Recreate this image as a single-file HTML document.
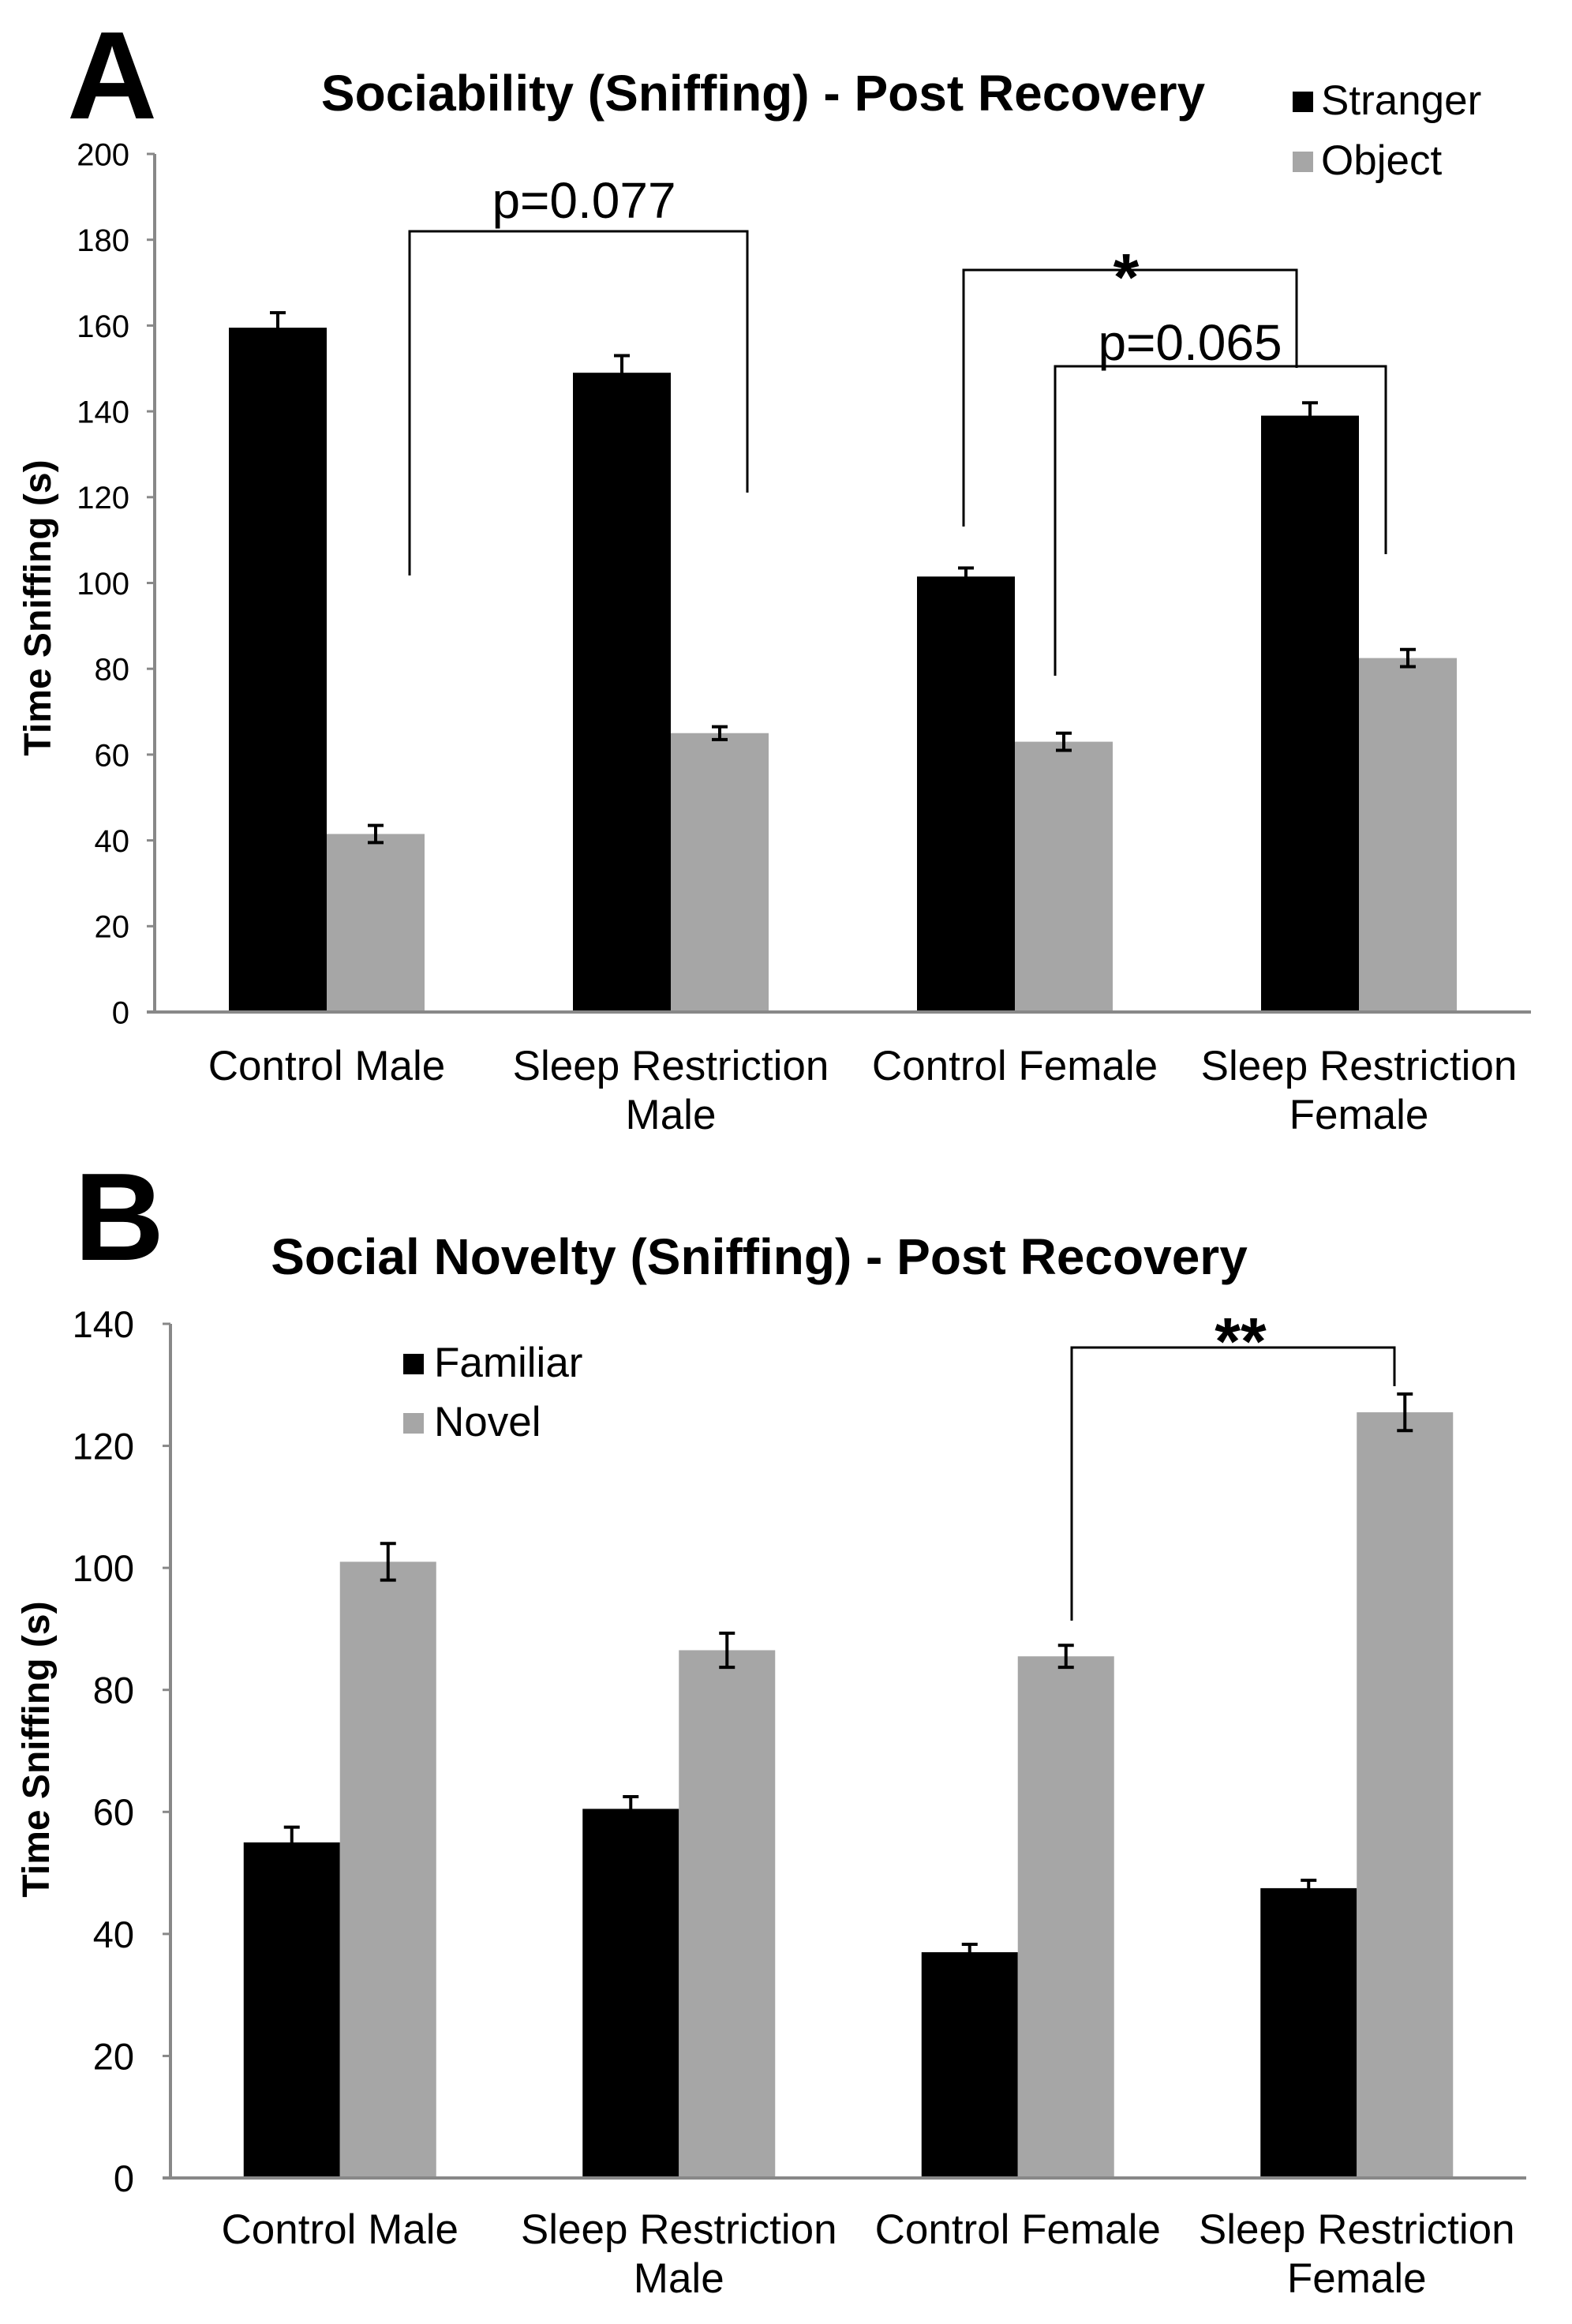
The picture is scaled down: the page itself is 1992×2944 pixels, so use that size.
<!DOCTYPE html>
<html><head><meta charset="utf-8"><style>
html,body{margin:0;padding:0;background:#fff;}
svg{display:block;font-family:"Liberation Sans",Arial,sans-serif;}
</style></head><body>
<svg id="fig" width="1992" height="2944" viewBox="0 0 1992 2944" xmlns="http://www.w3.org/2000/svg">
<rect width="1992" height="2944" fill="#fff"/>
<text x="85" y="150" font-size="158" font-weight="bold">A</text>
<text x="967" y="140" font-size="64" font-weight="bold" text-anchor="middle">Sociability (Sniffing) - Post Recovery</text>
<rect x="1638" y="116" width="26" height="26" fill="#000"/>
<text x="1674" y="145" font-size="53">Stranger</text>
<rect x="1638" y="192" width="26" height="26" fill="#a6a6a6"/>
<text x="1674" y="221" font-size="53">Object</text>
<text transform="translate(64,770) rotate(-90)" font-size="48" font-weight="bold" text-anchor="middle">Time Sniffing (s)</text>

<text x="94" y="1596" font-size="158" font-weight="bold">B</text>
<text x="962" y="1614" font-size="64" font-weight="bold" text-anchor="middle">Social Novelty (Sniffing) - Post Recovery</text>
<rect x="511" y="1715" width="26" height="26" fill="#000"/>
<text x="550" y="1744" font-size="53">Familiar</text>
<rect x="511" y="1790" width="26" height="26" fill="#a6a6a6"/>
<text x="550" y="1819" font-size="53">Novel</text>
<text transform="translate(62,2216) rotate(-90)" font-size="48" font-weight="bold" text-anchor="middle">Time Sniffing (s)</text>
<g id="ca"></g><g id="cb"></g>
</svg>
<script>
const categories = [["Control Male"],["Sleep Restriction","Male"],["Control Female"],["Sleep Restriction","Female"]];
const strangerValues = [159.5, 149, 101.5, 139];
const strangerErrors = [3.5, 4, 2, 3];
const objectValues = [41.5, 65, 63, 82.5];
const objectErrors = [2, 1.5, 2, 2];
const ticksA = [0,20,40,60,80,100,120,140,160,180,200];
const familiarValues = [55, 60.5, 37, 47.5];
const familiarErrors = [2.5, 2, 1.3, 1.3];
const novelValues = [101, 86.5, 85.5, 125.5];
const novelErrors = [3, 2.8, 1.8, 3];
const ticksB = [0,20,40,60,80,100,120,140];

const NS = "http://www.w3.org/2000/svg";
function mk(parent, tag, attrs){const e=document.createElementNS(NS,tag);for(const k in attrs)e.setAttribute(k,attrs[k]);parent.appendChild(e);return e;}

function drawChart(g, cfg){
  const yS = v => cfg.y0 - (v - 0) / cfg.max * (cfg.y0 - cfg.yTop);
  const band = (cfg.x1 - cfg.x0) / categories.length;
  const xC = i => cfg.x0 + band * (i + 0.5);
  const ya = mk(g,'line',{x1:cfg.x0,y1:cfg.yTop,x2:cfg.x0,y2:cfg.y0,stroke:'#888','stroke-width':4});
  
  
  cfg.ticks.forEach(t=>{
    const y = yS(t);
    const tl = mk(g,'line',{x1:cfg.x0-10,y1:y,x2:cfg.x0,y2:y,stroke:'#888','stroke-width':3});
    
    
    const tx = mk(g,'text',{x:cfg.x0-cfg.tg,y:y+cfg.tf*0.36,'font-size':cfg.tf,'text-anchor':'end'});
    tx.textContent = t;
    
    
  });
  const bw = cfg.bw;
  const series = [[cfg.s1,cfg.e1,'#000',-1,cfg.n1],[cfg.s2,cfg.e2,'#a6a6a6',0,cfg.n2]];
  series.forEach(([vals,errs,col,off,nm])=>{
    vals.forEach((v,i)=>{
      const x = xC(i) + off*bw;
      const r = mk(g,'rect',{x:x,y:yS(v),width:bw,height:cfg.y0-yS(v),fill:col});
      
      
      const cx = x + bw/2, yt = yS(v+errs[i]), yb = yS(v-errs[i]);
      const eb = mk(g,'path',{d:`M${cx},${yb}V${yt}M${cx-10},${yt}H${cx+10}M${cx-10},${yb}H${cx+10}`,stroke:'#000','stroke-width':4,fill:'none'});
      
      
    });
  });
  const xa = mk(g,'line',{x1:cfg.x0-10,y1:cfg.y0,x2:cfg.x1,y2:cfg.y0,stroke:'#888','stroke-width':4});
  
  
  categories.forEach((c,i)=>{
    c.forEach((line,j)=>{
      const t = mk(g,'text',{x:xC(i),y:cfg.labY+j*62,'font-size':53,'text-anchor':'middle'});
      t.textContent = line;
      
      
    });
  });
}
function bracket(g, name, x1, yl, x2, yr, y){
  const p = mk(g,'path',{d:`M${x1},${yl}V${y}H${x2}V${yr}`,stroke:'#000','stroke-width':3,fill:'none'});
  
  
}
function label(g,name,x,y,txt,size,w){
  const t = mk(g,'text',{x:x,y:y,'font-size':size,'text-anchor':'middle','font-weight':w||'normal'});
  t.textContent = txt;
  
  
}
const ga = document.getElementById('ca');
drawChart(ga,{id:'chart-a',x0:196,x1:1940,y0:1282,yTop:195,max:200,ticks:ticksA,tf:40,tg:32,bw:124,
  s1:strangerValues,e1:strangerErrors,s2:objectValues,e2:objectErrors,n1:'stranger',n2:'object',labY:1368});
bracket(ga,'bracket-p077',519,729,947,624,293);
label(ga,'p-value-0077',740,276,'p=0.077',64);
bracket(ga,'bracket-star',1221,667,1643,466,342);
label(ga,'significance-star',1427,380,'*',84,'bold');
bracket(ga,'bracket-p065',1337,856,1756,702,464);
label(ga,'p-value-0065',1508,456,'p=0.065',64);

const gb = document.getElementById('cb');
drawChart(gb,{id:'chart-b',x0:216,x1:1934,y0:2759,yTop:1677,max:140,ticks:ticksB,tf:47,tg:46,bw:122,
  s1:familiarValues,e1:familiarErrors,s2:novelValues,e2:novelErrors,n1:'familiar',n2:'novel',labY:2842});
bracket(gb,'bracket-double-star',1358,2053,1767,1756,1707);
label(gb,'significance-double-star',1572,1728,'**',84,'bold');
</script>
</body></html>
